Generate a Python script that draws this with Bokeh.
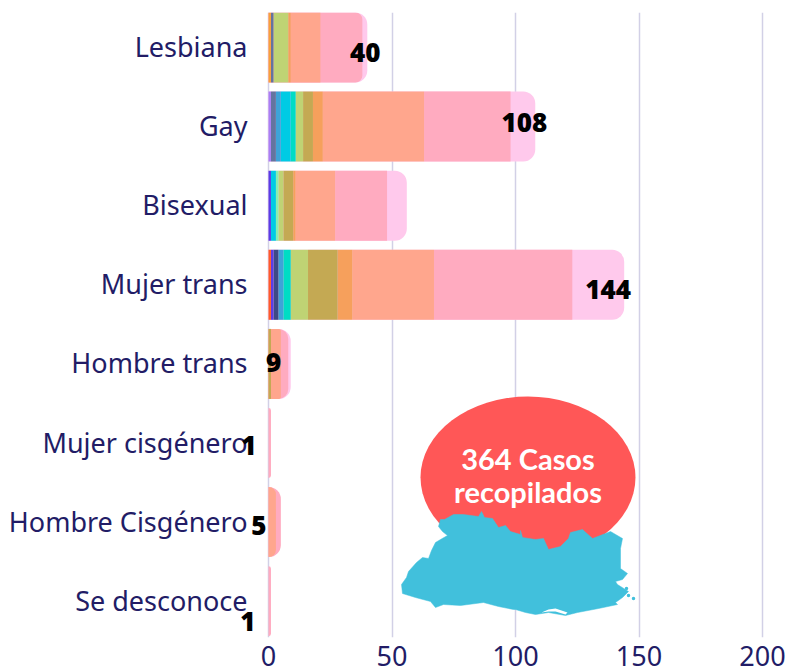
from bokeh.plotting import figure
from bokeh.embed import file_html
from bokeh.resources import INLINE
from bokeh.core.properties import value
from bokeh.models import Range1d, FixedTicker, Label

categories = ["Lesbiana", "Gay", "Bisexual", "Mujer trans", "Hombre trans",
              "Mujer cisgénero", "Hombre Cisgénero", "Se desconoce"]
x_ticks = [0, 50, 100, 150, 200]

# stacked series, left to right, one value per category
s_red     = [0, 0, 0, 1, 0, 0, 0, 0]
s_amber   = [1, 0, 0, 0, 0, 0, 0, 0]
s_violet  = [0, 1, 0, 0, 0, 0, 0, 0]
s_indigo  = [0, 0, 1, 1, 0, 0, 0, 0]
s_slate   = [1, 2, 0, 0, 0, 0, 0, 0]
s_navy    = [0, 0, 0, 2, 0, 0, 0, 0]
s_sky     = [0, 2, 0, 2, 0, 0, 0, 0]
s_cyan    = [0, 4, 2, 0, 0, 0, 0, 0]
s_teal    = [0, 2, 0, 3, 0, 0, 0, 0]
s_mint    = [0, 0, 1, 0, 0, 0, 0, 0]
s_green   = [6, 3, 2, 7, 0, 0, 0, 0]
s_olive   = [0, 4, 4, 12, 1, 0, 0, 0]
s_orange  = [1, 4, 1, 6, 0, 0, 0, 0]
s_salmon  = [12, 41, 16, 33, 4, 0, 3, 0]
s_pink    = [17, 35, 21, 56, 3, 1, 2, 1]
s_light   = [2, 10, 8, 21, 1, 0, 0, 0]

series = [(s_red, "#ff5a2b"), (s_amber, "#f7a03c"), (s_violet, "#a97ff5"),
          (s_indigo, "#5a3de6"), (s_slate, "#64749f"), (s_navy, "#3d4a86"), (s_sky, "#3ea3d8"),
          (s_cyan, "#00cbe4"), (s_teal, "#00dcc4"), (s_mint, "#86efb0"),
          (s_green, "#bfd374"), (s_olive, "#c4a953"), (s_orange, "#f6a05c"),
          (s_salmon, "#ffa68d"), (s_pink, "#ffabc0"), (s_light, "#ffc9ec")]

# shown totals (Bisexual has no label in the original)
labels = ["40", "108", None, "144", "9", "1", "5", "1"]
label_dx = [-2, -11, 0, -16, -17, -22, -22, -23]
label_dy = [5, -4, 0, 5, -1, 2, 3, 20]

# country outline, in page pixels
map_outline = [
    (401, 584), (406, 577), (408, 571), (416, 562), (422, 557), (428, 558), (431, 550), (435, 542),
    (440, 539), (447, 535), (442, 531), (438, 526), (440, 519), (444, 519), (453, 514), (463, 514),
    (478, 516), (481, 511), (484, 517), (492, 518), (498, 527), (505, 525), (510, 531), (520, 534),
    (520, 530), (522, 537), (535, 539), (543, 538), (548, 549), (560, 546), (568, 538),
    (570, 532), (582, 529), (592, 538), (605, 533), (610, 531), (622, 538), (620, 548), (620, 568),
    (627, 573), (622, 579), (615, 581), (617, 584), (628, 591), (622, 597), (615, 602), (617, 604),
    (598, 608), (577, 612), (565, 615), (548, 612), (535, 614), (525, 612), (515, 609), (513, 609),
    (498, 606), (483, 602), (460, 605), (443, 604), (435, 607), (430, 601), (415, 597), (402, 593),
]
lagoon = [(541, 612), (548, 609), (555, 608), (567, 612), (565, 614), (555, 611), (548, 611)]
islands = [(626, 588), (628, 595), (633, 598)]

PX_PER_UNIT = 2.47
X0_PX, Y0_PX, STEP_PX = 268.0, 47.0, 79.1
def dx(px): return (px - X0_PX) / PX_PER_UNIT
def dy(py): return (py - Y0_PX) / STEP_PX

W, H = 789, 672
# the frame spans the full width so that category names and the small totals left of zero stay visible
p = figure(width=W, height=H, output_backend="svg", toolbar_location=None,
           x_range=Range1d(dx(0), dx(W)),
           y_range=Range1d(dy(637), dy(12)),
           y_axis_location=None,
           min_border_left=0, min_border_right=0, min_border_top=12, min_border_bottom=35)
p.outline_line_color = None
p.background_fill_color = "white"

TEXT = "#221c66"
p.xgrid.grid_line_color = "#d2d0e6"
p.xgrid.grid_line_width = 1.5
p.xgrid.ticker = FixedTicker(ticks=x_ticks)
p.ygrid.visible = False

p.xaxis.ticker = FixedTicker(ticks=x_ticks)
p.xaxis.axis_line_color = None
p.xaxis.major_tick_line_color = None
p.xaxis.minor_tick_line_color = None
p.xaxis.major_label_text_font = "Noto Sans"
p.xaxis.major_label_text_font_size = "27px"
p.xaxis.major_label_text_color = TEXT
p.xaxis.major_label_standoff = 2

# category names
p.text(x=[dx(247)] * len(categories), y=list(range(len(categories))), text=categories,
       y_offset=-1, text_font=value("Noto Sans"), text_font_size="27px", text_color=TEXT,
       text_align="right", text_baseline="middle")

# bars: drawn last-to-first so a rounded end can sit under its neighbour
BAR_H = 70 / STEP_PX
RADIUS = 12
for i in range(len(categories)):
    total = sum(s[i] for s, _ in series)
    ends = []
    left = 0
    for s, col in series:
        if s[i]:
            ends.append((left, left + s[i], col))
            left += s[i]
    for start, end, col in reversed(ends):
        r = int(round(max(0, RADIUS - (total - end) * PX_PER_UNIT)))
        p.hbar(y=[i], left=[0 if r else start], right=[end], height=BAR_H, fill_color=col,
               line_color=None, border_radius=(0, r, r, 0))

# bubble
p.ellipse(x=[dx(527.5)], y=[dy(477)], width=[215 / PX_PER_UNIT], height=[162 / STEP_PX],
          fill_color="#ff5757", line_color=None)
p.text(x=[dx(527.5)], y=[dy(458)], text=["364 Casos"], text_font=value("Lato"),
       text_font_style="bold", text_font_size="29px", text_color="white",
       text_align="center", text_baseline="middle")
p.text(x=[dx(527.5)], y=[dy(491)], text=["recopilados"], text_font=value("Lato"),
       text_font_style="bold", text_font_size="29px", text_color="white",
       text_align="center", text_baseline="middle")

# map
MAP = "#41c0dc"
p.patch([dx(a) for a, _ in map_outline], [dy(b) for _, b in map_outline],
        fill_color=MAP, line_color=MAP, line_width=0.5)
p.patch([dx(a) for a, _ in lagoon], [dy(b) for _, b in lagoon], fill_color="white", line_color=None)
p.scatter([dx(a) for a, _ in islands], [dy(b) for _, b in islands], size=3.5, marker="circle",
          fill_color=MAP, line_color=None)

# value labels
for i, t in enumerate(labels):
    if t is None:
        continue
    total = sum(s[i] for s, _ in series)
    p.add_layout(Label(x=total, y=i, text=t, x_offset=label_dx[i], y_offset=-label_dy[i],
                       text_font="Open Sans ExtraBold", text_font_size="26px", text_color="black",
                       text_align="center", text_baseline="middle"))

open("out.html", "w").write(file_html(p, INLINE))
